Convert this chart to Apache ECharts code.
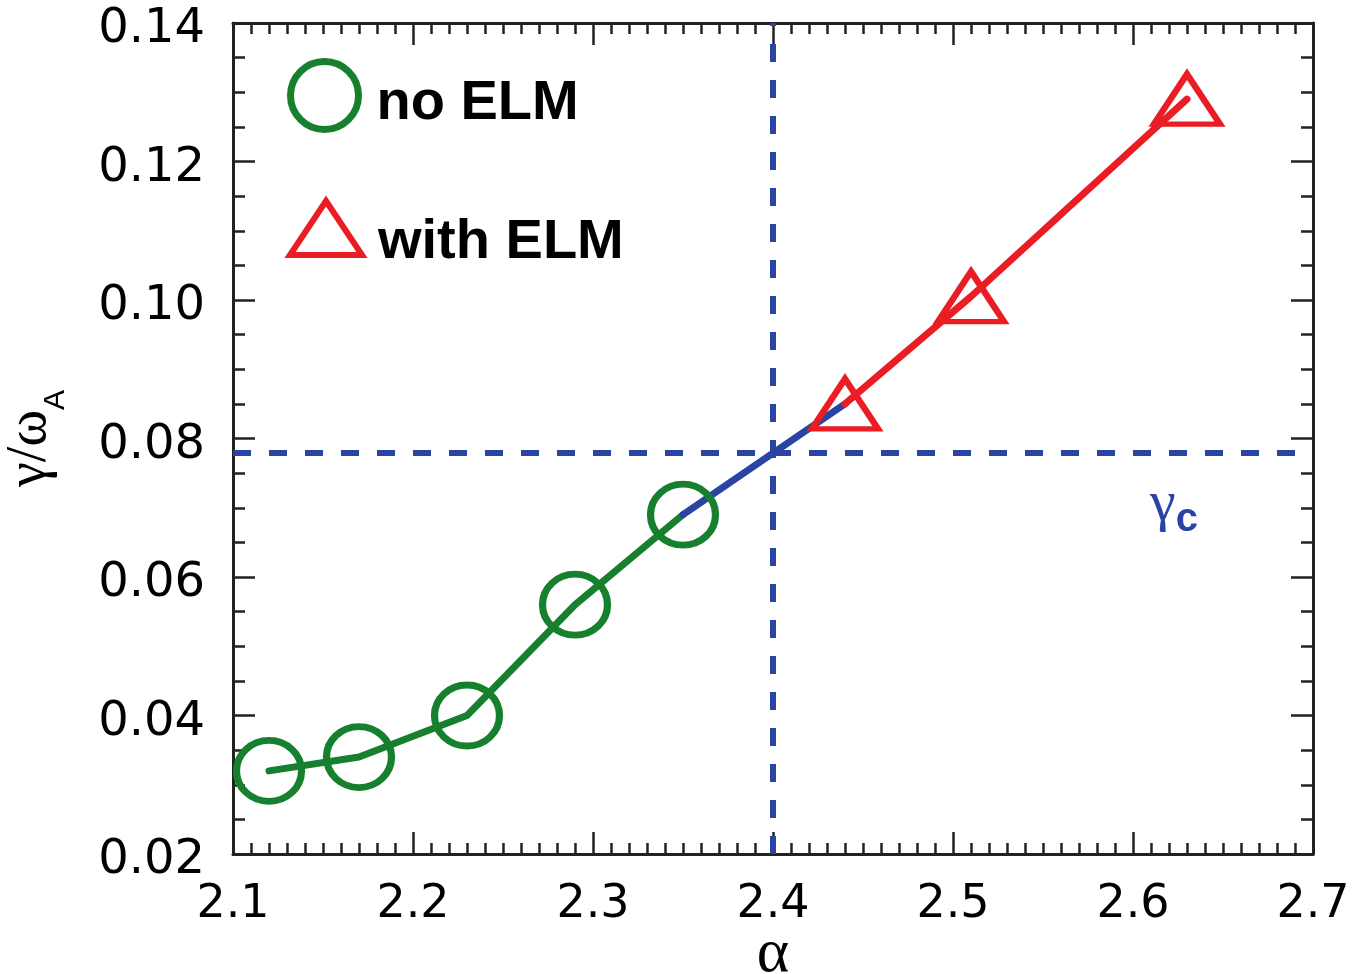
<!DOCTYPE html>
<html>
<head>
<meta charset="utf-8">
<script src="https://cdn.jsdelivr.net/npm/echarts@6/dist/echarts.min.js"></script>
<style>
  html, body { margin: 0; padding: 0; background: #fff; }
  #chart { width: 1353px; height: 974px; }
</style>
</head>
<body>
<div id="chart"></div>
<script>
// values
const noElmAlpha = [2.12, 2.17, 2.23, 2.29, 2.35]
const noElmGamma = [0.032, 0.034, 0.040, 0.056, 0.069]
const withElmAlpha = [2.44, 2.51, 2.63]
const withElmGamma = [0.085, 0.1005, 0.129]
const alphaC = 2.4
const gammaC = 0.078
const xRange = [2.1, 2.7]
const yRange = [0.02, 0.14]

const green = '#17802f'
const red = '#ea1c24'
const blue = '#2a44a4'
const axisColor = '#222'
const sans = '"Liberation Sans", Arial, sans-serif'
const tickFont = '"DejaVu Sans", sans-serif'
const serif = '"Liberation Serif", "Times New Roman", serif'

const noElm = noElmAlpha.map((a, i) => [a, noElmGamma[i]])
const withElm = withElmAlpha.map((a, i) => [a, withElmGamma[i]])
const bridge = [noElm[noElm.length - 1], withElm[0]]

function frameAxis (base, extra) {
  return Object.assign({
    type: 'value',
    axisLine: { show: true, onZero: false, lineStyle: { color: axisColor, width: 3 } },
    axisTick: { show: true, inside: true, length: 22, lineStyle: { color: axisColor, width: 2.5 } },
    splitLine: { show: false },
    minorSplitLine: { show: false }
  }, base, extra)
}

const xBase = { min: xRange[0], max: xRange[1], interval: 0.1 }
const yBase = { min: yRange[0], max: yRange[1], interval: 0.02 }
const xMinor = { show: true, splitNumber: 10, length: 11, lineStyle: { color: axisColor, width: 2.5 } }
const yMinor = { show: true, splitNumber: 4, length: 12, lineStyle: { color: axisColor, width: 2.5 } }

const legendText = { fontFamily: sans, fontWeight: 'bold', fontSize: 56, color: '#000' }

const chart = echarts.init(document.getElementById('chart'))

chart.setOption({
  animation: false,
  backgroundColor: '#fff',
  grid: { left: 233, right: 40, top: 23, bottom: 120, containLabel: false, outerBoundsMode: 'none' },
  legend: [{
    left: 287,
    top: 58,
    padding: 0,
    selectedMode: false,
    itemWidth: 72,
    itemHeight: 68,
    data: [{
      name: 'no ELM',
      icon: 'circle',
      itemStyle: { color: 'rgba(0,0,0,0)', borderColor: green, borderWidth: 7, opacity: 1 }
    }],
    formatter: '{t|{name}}',
    textStyle: { rich: { t: Object.assign({ padding: [16, 0, 0, 11] }, legendText) } }
  }, {
    left: 287,
    top: 198,
    padding: 0,
    selectedMode: false,
    itemWidth: 72,
    itemHeight: 54,
    data: [{
      name: 'with ELM',
      icon: 'triangle',
      itemStyle: { color: 'rgba(0,0,0,0)', borderColor: red, borderWidth: 6, opacity: 1 }
    }],
    formatter: '{t|{name}}',
    textStyle: { rich: { t: Object.assign({ padding: [30, 0, 0, 11] }, legendText) } }
  }],
  xAxis: [
    frameAxis(xBase, {
      position: 'bottom',
      minorTick: xMinor,
      axisLabel: {
        margin: 28,
        fontFamily: tickFont,
        fontSize: 46,
        color: '#000',
        formatter: v => v.toFixed(1)
      },
      name: 'α',
      nameLocation: 'middle',
      nameGap: 70,
      nameMoveOverlap: false,
      nameTextStyle: { fontFamily: serif, fontSize: 62, color: '#000' }
    }),
    frameAxis(xBase, {
      position: 'top',
      minorTick: xMinor,
      axisLabel: { show: false }
    })
  ],
  yAxis: [
    frameAxis(yBase, {
      position: 'left',
      minorTick: yMinor,
      axisLabel: {
        margin: 28,
        color: '#000',
        formatter: v => '{v|' + v.toFixed(2) + '}',
        rich: {
          v: { fontFamily: tickFont, fontSize: 48, color: '#000', padding: [14, 0, 0, 0] }
        }
      },
      name: '{m|γ/ω}{s|A}',
      nameLocation: 'middle',
      nameRotate: 90,
      nameGap: 162,
      nameTextStyle: {
        color: '#000',
        rich: {
          m: { fontFamily: serif, fontSize: 56, color: '#000' },
          s: { fontFamily: sans, fontSize: 30, color: '#000', padding: [52, 0, 0, 0] }
        }
      }
    }),
    frameAxis(yBase, {
      position: 'right',
      minorTick: yMinor,
      axisLabel: { show: false }
    })
  ],
  graphic: [{
    type: 'text',
    left: 1150,
    top: 476,
    style: {
      text: '{g|γ}{c|c}',
      rich: {
        g: { fontFamily: serif, fontSize: 58, fill: blue },
        c: { fontFamily: sans, fontSize: 40, fontWeight: 'bold', fill: blue, padding: [30, 0, 0, 0] }
      }
    }
  }],
  series: [{
    name: 'no ELM line',
    type: 'line',
    data: noElm,
    symbol: 'none',
    lineStyle: { color: green, width: 7, cap: 'round' },
    z: 3
  }, {
    name: 'critical',
    type: 'line',
    data: bridge,
    symbol: 'none',
    lineStyle: { color: blue, width: 7, cap: 'round' },
    markLine: {
      silent: true,
      precision: 4,
      symbol: ['none', 'none'],
      label: { show: false },
      lineStyle: { color: blue, width: 6, type: [18, 18], opacity: 1 },
      data: [{ xAxis: alphaC }, { yAxis: gammaC }]
    },
    z: 3
  }, {
    name: 'with ELM line',
    type: 'line',
    data: withElm,
    symbol: 'none',
    lineStyle: { color: red, width: 7, cap: 'round' },
    z: 3
  }, {
    name: 'no ELM',
    type: 'scatter',
    data: noElm,
    symbol: 'circle',
    symbolSize: [65, 61],
    itemStyle: { color: 'rgba(0,0,0,0)', borderColor: green, borderWidth: 7, opacity: 1 },
    z: 4
  }, {
    name: 'with ELM',
    type: 'scatter',
    data: withElm,
    symbol: 'triangle',
    symbolSize: [66, 50],
    itemStyle: { color: 'rgba(0,0,0,0)', borderColor: red, borderWidth: 6, opacity: 1 },
    z: 4
  }]
})
</script>
</body>
</html>
